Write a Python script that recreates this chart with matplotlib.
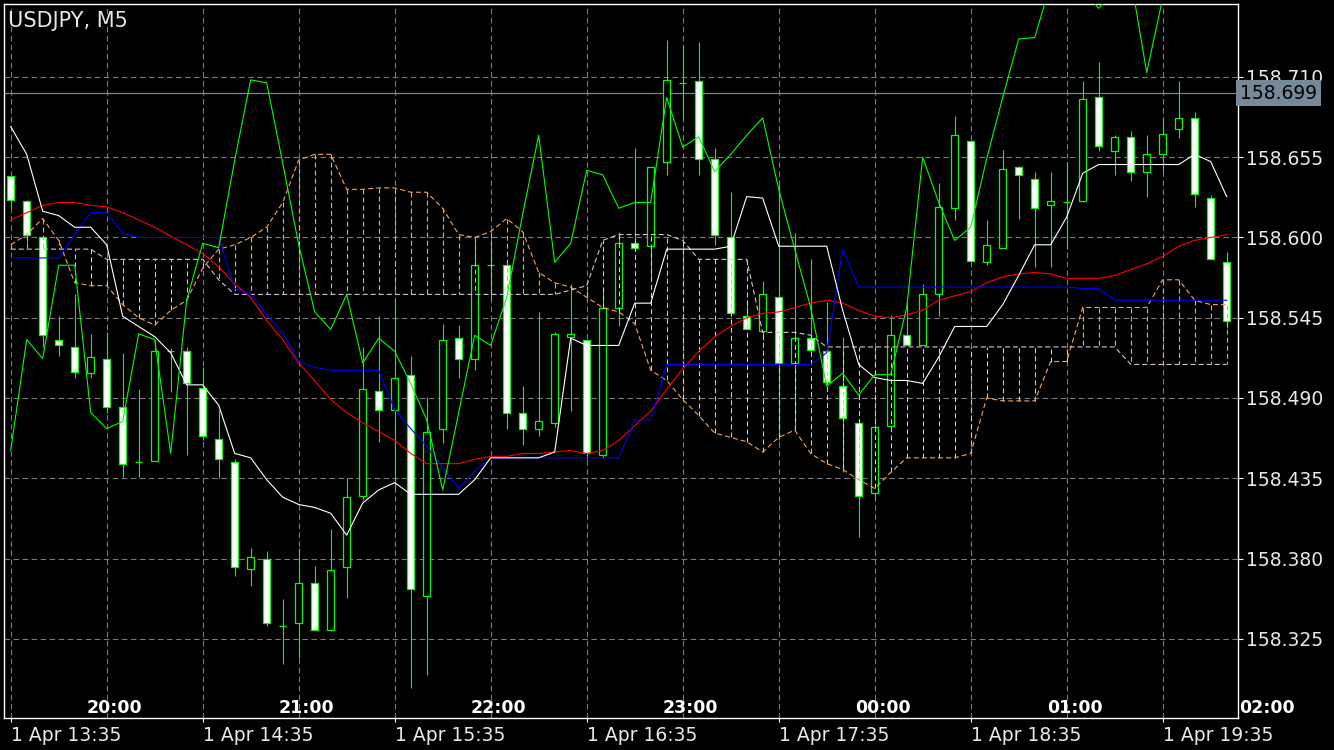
import numpy as np
import matplotlib.pyplot as plt
from matplotlib.transforms import blended_transform_factory

plt.rcParams['lines.scale_dashes'] = False
plt.rcParams['font.family'] = ['DejaVu Sans']

# USDJPY M5 candles (open, high, low, close)
opens = [158.642, 158.625, 158.600, 158.530, 158.525, 158.507, 158.517, 158.484, 158.446, 158.447,
         158.522, 158.522, 158.497, 158.462, 158.446, 158.373, 158.380, 158.334, 158.336, 158.363,
         158.331, 158.374, 158.423, 158.495, 158.482, 158.506, 158.354, 158.469, 158.531, 158.517,
         158.581, 158.581, 158.480, 158.469, 158.473, 158.532, 158.530, 158.451, 158.552, 158.596,
         158.594, 158.652, 158.706, 158.707, 158.654, 158.600, 158.546, 158.536, 158.559, 158.514,
         158.531, 158.522, 158.498, 158.473, 158.425, 158.471, 158.533, 158.526, 158.561, 158.620,
         158.666, 158.583, 158.593, 158.648, 158.640, 158.622, 158.624, 158.625, 158.696, 158.659,
         158.669, 158.645, 158.657, 158.674, 158.682, 158.627, 158.583]
highs = [158.642, 158.626, 158.601, 158.546, 158.561, 158.534, 158.535, 158.521, 158.496, 158.530,
         158.524, 158.525, 158.511, 158.482, 158.448, 158.387, 158.385, 158.352, 158.387, 158.375,
         158.400, 158.435, 158.525, 158.546, 158.558, 158.519, 158.491, 158.541, 158.540, 158.598,
         158.598, 158.583, 158.498, 158.549, 158.535, 158.568, 158.530, 158.564, 158.604, 158.661,
         158.648, 158.735, 158.732, 158.734, 158.661, 158.631, 158.557, 158.570, 158.636, 158.603,
         158.585, 158.556, 158.532, 158.475, 158.471, 158.547, 158.556, 158.568, 158.637, 158.683,
         158.666, 158.612, 158.660, 158.649, 158.645, 158.645, 158.652, 158.707, 158.720, 158.670,
         158.673, 158.670, 158.681, 158.707, 158.686, 158.629, 158.590]
lows = [158.620, 158.596, 158.525, 158.519, 158.504, 158.504, 158.480, 158.436, 158.436, 158.447,
        158.494, 158.451, 158.461, 158.435, 158.368, 158.361, 158.334, 158.308, 158.312, 158.331,
        158.330, 158.353, 158.420, 158.460, 158.427, 158.291, 158.300, 158.459, 158.504, 158.509,
        158.557, 158.469, 158.458, 158.464, 158.470, 158.481, 158.448, 158.449, 158.539, 158.592,
        158.571, 158.643, 158.681, 158.643, 158.595, 158.546, 158.537, 158.530, 158.461, 158.470,
        158.522, 158.499, 158.439, 158.395, 158.421, 158.471, 158.526, 158.526, 158.546, 158.612,
        158.584, 158.581, 158.593, 158.613, 158.580, 158.580, 158.592, 158.624, 158.659, 158.643,
        158.639, 158.628, 158.645, 158.668, 158.621, 158.585, 158.538]
closes = [158.626, 158.602, 158.533, 158.526, 158.508, 158.518, 158.484, 158.445, 158.446, 158.522,
          158.522, 158.500, 158.464, 158.448, 158.374, 158.381, 158.336, 158.334, 158.363, 158.331,
          158.372, 158.422, 158.496, 158.482, 158.504, 158.359, 158.467, 158.530, 158.517, 158.581,
          158.581, 158.480, 158.469, 158.474, 158.534, 158.534, 158.452, 158.552, 158.596, 158.593,
          158.648, 158.708, 158.706, 158.654, 158.602, 158.548, 158.537, 158.561, 158.514, 158.531,
          158.523, 158.501, 158.476, 158.423, 158.470, 158.533, 158.526, 158.561, 158.621, 158.670,
          158.584, 158.595, 158.647, 158.643, 158.620, 158.625, 158.624, 158.695, 158.663, 158.669,
          158.645, 158.657, 158.671, 158.682, 158.630, 158.585, 158.543]

# indicator lines
white_line = [158.676, 158.657, 158.618, 158.615, 158.607, 158.607, 158.595, 158.546, 158.539, 158.532,
              158.521, 158.499, 158.499, 158.485, 158.452, 158.449, 158.434, 158.422, 158.417, 158.415,
              158.411, 158.396, 158.418, 158.427, 158.432, 158.424, 158.424, 158.424, 158.424, 158.434,
              158.449, 158.449, 158.449, 158.449, 158.453, 158.531, 158.526, 158.526, 158.526, 158.555,
              158.555, 158.592, 158.592, 158.592, 158.592, 158.594, 158.628, 158.627, 158.594, 158.594,
              158.594, 158.594, 158.550, 158.513, 158.504, 158.502, 158.502, 158.500, 158.518, 158.539,
              158.539, 158.539, 158.554, 158.574, 158.595, 158.595, 158.614, 158.644, 158.650, 158.650,
              158.650, 158.650, 158.650, 158.650, 158.657, 158.652, 158.628]
red_line = [158.612, 158.617, 158.622, 158.624, 158.624, 158.622, 158.621, 158.617, 158.612, 158.607,
            158.601, 158.595, 158.589, 158.580, 158.568, 158.559, 158.543, 158.530, 158.514, 158.502,
            158.489, 158.480, 158.473, 158.467, 158.461, 158.452, 158.445, 158.445, 158.445, 158.448,
            158.450, 158.450, 158.452, 158.452, 158.453, 158.454, 158.452, 158.454, 158.461, 158.471,
            158.481, 158.496, 158.510, 158.522, 158.532, 158.539, 158.545, 158.548, 158.549, 158.552,
            158.555, 158.557, 158.555, 158.550, 158.546, 158.545, 158.547, 158.550, 158.557, 158.560,
            158.563, 158.569, 158.573, 158.575, 158.576, 158.575, 158.572, 158.572, 158.572, 158.574,
            158.578, 158.582, 158.587, 158.594, 158.598, 158.600, 158.602]
blue_line = [158.586, 158.586, 158.586, 158.586, 158.602, 158.617, 158.617, 158.603, 158.600, 158.600,
             158.600, 158.600, 158.600, 158.600, 158.565, 158.561, 158.547, 158.535, 158.515, 158.511,
             158.509, 158.509, 158.509, 158.509, 158.482, 158.469, 158.457, 158.442, 158.428, 158.440,
             158.449, 158.449, 158.449, 158.449, 158.449, 158.449, 158.449, 158.449, 158.449, 158.475,
             158.475, 158.513, 158.513, 158.513, 158.513, 158.513, 158.513, 158.513, 158.513, 158.513,
             158.513, 158.521, 158.592, 158.566, 158.566, 158.566, 158.566, 158.566, 158.566, 158.566,
             158.566, 158.566, 158.566, 158.566, 158.566, 158.566, 158.566, 158.565, 158.565, 158.557,
             158.557, 158.557, 158.557, 158.557, 158.557, 158.557, 158.557]
green_line = [158.454, 158.530, 158.517, 158.581, 158.581, 158.480, 158.469, 158.474, 158.534, 158.530,
              158.452, 158.557, 158.596, 158.593, 158.653, 158.708, 158.706, 158.651, 158.595, 158.549,
              158.537, 158.561, 158.514, 158.531, 158.522, 158.500, 158.475, 158.427, 158.480, 158.533,
              158.526, 158.559, 158.616, 158.670, 158.583, 158.596, 158.646, 158.643, 158.620, 158.624,
              158.624, 158.696, 158.662, 158.669, 158.645, 158.657, 158.670, 158.682, 158.633, 158.592,
              158.552, 158.498, 158.507, 158.492, 158.506, 158.506, 158.552, 158.655, 158.624, 158.598,
              158.607, 158.654, 158.696, 158.736, 158.737, 158.774, 158.783, 158.770, 158.757, 158.770,
              158.778, 158.713, 158.764]
span_a = [158.595, 158.602, 158.613, 158.598, 158.569, 158.567, 158.567, 158.554, 158.545, 158.540,
          158.550, 158.557, 158.579, 158.592, 158.595, 158.600, 158.607, 158.624, 158.653, 158.657,
          158.657, 158.633, 158.633, 158.634, 158.634, 158.631, 158.631, 158.620, 158.602, 158.600,
          158.604, 158.613, 158.604, 158.576, 158.569, 158.566, 158.559, 158.552, 158.549, 158.541,
          158.509, 158.502, 158.489, 158.478, 158.466, 158.463, 158.460, 158.453, 158.463, 158.468,
          158.452, 158.445, 158.441, 158.434, 158.428, 158.439, 158.449, 158.449, 158.449, 158.449,
          158.452, 158.490, 158.488, 158.488, 158.488, 158.515, 158.515, 158.552, 158.552, 158.552,
          158.552, 158.552, 158.571, 158.571, 158.557, 158.554, 158.554]
span_b = [158.592, 158.592, 158.592, 158.592, 158.592, 158.592, 158.585, 158.585, 158.585, 158.585,
          158.585, 158.585, 158.585, 158.571, 158.561, 158.561, 158.561, 158.561, 158.561, 158.561,
          158.561, 158.561, 158.561, 158.561, 158.561, 158.561, 158.561, 158.561, 158.561, 158.561,
          158.561, 158.561, 158.561, 158.561, 158.561, 158.564, 158.567, 158.598, 158.602, 158.602,
          158.602, 158.602, 158.598, 158.585, 158.585, 158.585, 158.585, 158.535, 158.535, 158.535,
          158.533, 158.525, 158.525, 158.525, 158.525, 158.525, 158.525, 158.525, 158.525, 158.525,
          158.525, 158.525, 158.525, 158.525, 158.525, 158.525, 158.525, 158.525, 158.525, 158.525,
          158.513, 158.513, 158.513, 158.513, 158.513, 158.513, 158.513]

price_ticks = [158.325, 158.380, 158.435, 158.490, 158.545, 158.600, 158.655, 158.710]
date_ticks = [0, 12, 24, 36, 48, 60, 72]
date_labels = ['1 Apr 13:35', '1 Apr 14:35', '1 Apr 15:35', '1 Apr 16:35',
               '1 Apr 17:35', '1 Apr 18:35', '1 Apr 19:35']
hour_ticks = [6, 18, 30, 42, 54, 66, 78]
hour_labels = ['20:00', '21:00', '22:00', '23:00', '00:00', '01:00', '02:00']
last_price = 158.699

lime = '#00ff00'
grid_col = '#7a7a7a'
dash = (0, (3.6, 2.2))

fig = plt.figure(figsize=(13.34, 7.5), dpi=100, facecolor='black')
ax = fig.add_axes([4.3 / 1334, 32 / 750, (1238 - 4.3) / 1334, 714 / 750], facecolor='black')

x = np.arange(len(opens))
o = np.array(opens)
c = np.array(closes)

# grid
for p in price_ticks:
    ax.axhline(p, color=grid_col, lw=0.8, ls=(0, (4, 2.5)), zorder=0)
for i in range(0, len(opens), 6):
    ax.axvline(i, color=grid_col, lw=0.8, ls=(0, (4, 2.5)), zorder=0)

# last price line
ax.axhline(last_price, color='#778899', lw=0.9, zorder=1)

# candles
ax.vlines(x, lows, highs, color=lime, lw=0.8, zorder=2)
body_col = np.where(c < o, 'white', 'black')
ax.bar(x, c - o, bottom=o, width=0.46, color=body_col, edgecolor=lime, linewidth=0.9, zorder=2.5)

# ichimoku cloud
sa = np.array(span_a)
sb = np.array(span_b)
for i in range(len(sa)):
    col = '#f4a460' if sa[i] > sb[i] else '#d8bfd8'
    ax.plot([i, i], [sa[i], sb[i]], color=col, lw=0.8, ls=dash, zorder=3)
ax.plot(x, span_a, color='#f4a460', lw=0.8, ls=dash, zorder=3)
ax.plot(x, span_b, color='#d8bfd8', lw=0.8, ls=dash, zorder=3)

# other lines
ax.plot(x, red_line, color='#ff0000', lw=0.8, zorder=4)
ax.plot(x, blue_line, color='#0000ff', lw=0.8, zorder=4)
ax.plot(x, white_line, color='white', lw=0.8, zorder=4)
ax.plot(np.arange(len(green_line)), green_line, color=lime, lw=0.8, zorder=4)

ax.set_xlim(-0.4, 76.706)
ax.set_ylim(158.2707, 158.7600)

for s in ax.spines.values():
    s.set_color('white')
    s.set_linewidth(1)

ax.yaxis.tick_right()
ax.set_yticks(price_ticks)
ax.set_yticklabels(['%.3f' % p for p in price_ticks])
ax.tick_params(axis='y', colors='white', labelcolor='#e8e8e8', length=3.5, width=0.8, pad=2, labelsize=13.5)
ax.set_xticks(date_ticks)
ax.set_xticklabels(date_labels, ha='left')
ax.tick_params(axis='x', colors='white', labelcolor='#e8e8e8', length=3, width=0.8, pad=3, labelsize=13.5)

tr = blended_transform_factory(ax.transData, ax.transAxes)
for h, lab in zip(hour_ticks, hour_labels):
    ax.text(h + 0.5, 0.014, lab, transform=tr, ha='center', va='center', color='white',
            fontsize=12.5, fontweight='bold', clip_on=False, zorder=6)

tr2 = blended_transform_factory(ax.transAxes, ax.transData)
ax.text(1.0015, last_price, '%.3f' % last_price, transform=tr2, ha='left', va='center', color='black',
        fontsize=13.5, zorder=10, clip_on=False,
        bbox=dict(boxstyle='square,pad=0.2', fc='#778899', ec='none'))

fig.text(8 / 1334, 1 - 21 / 750, 'USDJPY, M5', color='#e6e6e6', fontsize=15, ha='left', va='center')

fig.savefig('out.png', dpi=100, facecolor='black')
